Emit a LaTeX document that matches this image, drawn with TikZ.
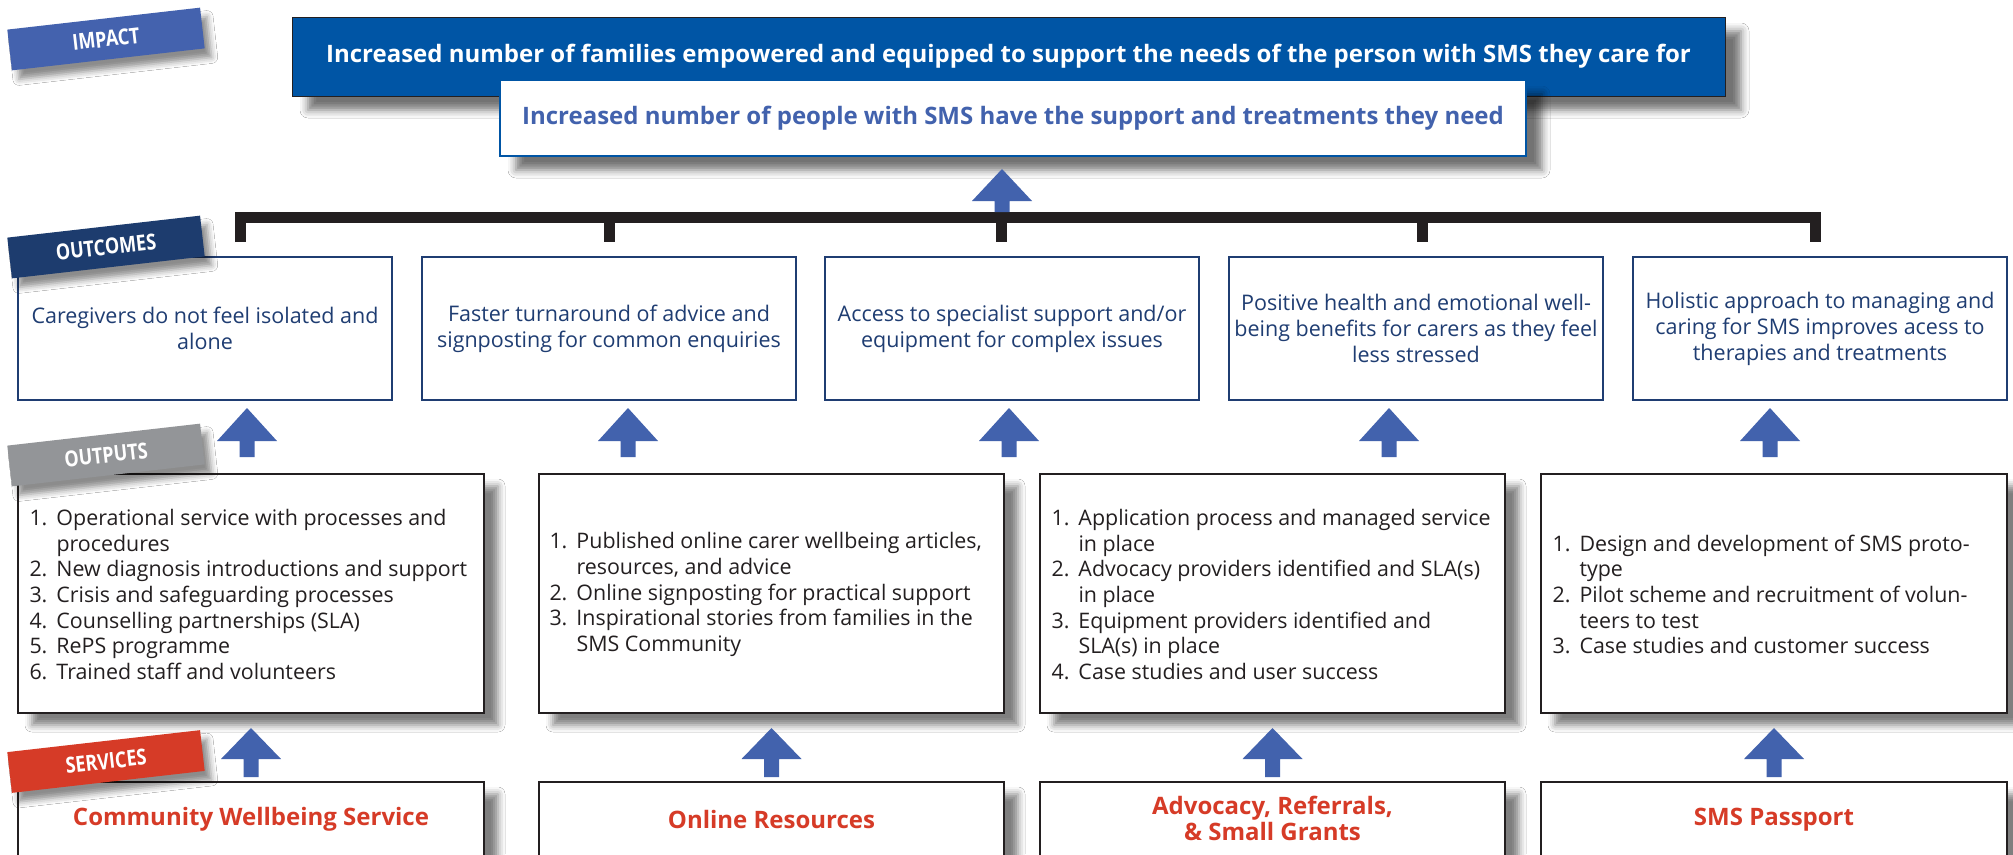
\documentclass[tikz,border=0pt]{standalone}
\usepackage{fontspec}
\setmainfont{Open Sans}
\usetikzlibrary{calc,shadows.blur}
\definecolor{topblue}{HTML}{0055A5}
\definecolor{arrblue}{HTML}{4262AD}
\definecolor{impactblue}{HTML}{4462AE}
\definecolor{navy}{HTML}{1F3D72}
\definecolor{navylab}{HTML}{1D3C6E}
\definecolor{labgrey}{HTML}{939598}
\definecolor{labred}{HTML}{D63B27}
\definecolor{ink}{HTML}{231F20}
\newcommand{\itm}[1]{\makebox[27pt][l]{#1}}
\newcommand{\ind}{\hspace*{27pt}}
\newcommand{\uparr}[4]{%
  \fill[arrblue] (#1-7.5,#4) -- (#1-7.5,#3) -- (#1-30,#3) -- (#1,#2) -- (#1+30,#3) -- (#1+7.5,#3) -- (#1+7.5,#4) -- cycle;}
\tikzset{
  lab/.style={rotate=6.5, minimum width=194pt, minimum height=41pt, inner sep=0pt,
    text=white, font=\bfseries\fontsize{22}{22}\selectfont,
    blur shadow={shadow xshift=7pt, shadow yshift=-9pt, shadow blur radius=6pt, shadow opacity=45}},
  topbox/.style={fill=topblue, draw=ink, line width=1pt, minimum width=1433pt, minimum height=79pt,
    inner sep=0pt, text=white, font=\bfseries\fontsize{24}{28}\selectfont,
    blur shadow={shadow xshift=16pt, shadow yshift=-14pt, shadow blur radius=8pt, shadow opacity=55}},
  secbox/.style={fill=white, draw=topblue, line width=2pt, minimum width=1026pt, minimum height=76pt,
    inner sep=0pt, text=arrblue, font=\bfseries\fontsize{24}{28}\selectfont,
    blur shadow={shadow xshift=16pt, shadow yshift=-14pt, shadow blur radius=8pt, shadow opacity=55}},
  ocbox/.style={draw=navy, line width=2.2pt, fill=white, minimum width=374pt, minimum height=143pt,
    inner sep=0pt, align=center, text=navy, font=\fontsize{21.5}{26}\selectfont},
  opbox/.style={draw=ink, line width=1.4pt, fill=white, minimum height=239pt, inner sep=0pt,
    blur shadow={shadow xshift=14pt, shadow yshift=-12pt, shadow blur radius=7pt, shadow opacity=50}},
  svbox/.style={draw=ink, line width=1.4pt, fill=white, minimum height=100pt, inner sep=0pt,
    blur shadow={shadow xshift=14pt, shadow yshift=-12pt, shadow blur radius=7pt, shadow opacity=50}},
  listtext/.style={anchor=west, inner sep=0pt, align=left, text=ink, font=\fontsize{21.4}{25.7}\selectfont},
  svtext/.style={inner sep=0pt, align=center, text=labred, font=\bfseries\fontsize{24}{26}\selectfont},
  bracket/.style={draw=ink, line width=11pt}
}
\begin{document}
\begin{tikzpicture}[x=1pt,y=-1pt]
\useasboundingbox (0,0) rectangle (2013,854);
\clip (0,0) rectangle (2013,854);
\fill[white] (0,0) rectangle (2013,854);

% impact
\node[topbox] (imp1) at (1008.5,56.5) {Increased number of families empowered and equipped to support the needs of the person with SMS they care for};
\node[secbox] (imp2) at (1013,118) {Increased number of people with SMS have the support and treatments they need};

% bracket and central arrow
\coordinate (bl) at (240,242);
\coordinate (br) at (1815.5,242);
\draw[bracket] (bl) -- (240,217.5) -- (1815.5,217.5) -- (br);
\foreach \x in {609,1001,1422} \draw[bracket] (\x,217.5) -- (\x,242);
\uparr{1002}{169}{201}{212}

% outcomes
\node[ocbox] (oc1) at (205,328.5) {Caregivers do not feel isolated and\\alone};
\node[ocbox] (oc2) at (609,328.5) {Faster turnaround of advice and\\signposting for common enquiries};
\node[ocbox] (oc3) at (1012,328.5) {Access to specialist support and/or\\equipment for complex issues};
\node[ocbox] (oc4) at (1416,328.5) {Positive health and emotional well-\\being benefits for carers as they feel\\less stressed};
\node[ocbox] (oc5) at (1820,328.5) {Holistic approach to managing and\\caring for SMS improves acess to\\therapies and treatments};

\foreach \x in {247,628,1009,1389,1770} {\uparr{\x}{408}{441}{457}}

% outputs
\node[opbox, minimum width=466pt] (op1) at (251,593.5) {};
\node[opbox, minimum width=465pt] (op2) at (771.5,593.5) {};
\node[opbox, minimum width=465pt] (op3) at (1272.5,593.5) {};
\node[opbox, minimum width=466pt] (op4) at (1774,593.5) {};

\node[listtext] (t1) at ($(op1.west)+(12,1)$) {\itm{1.}Operational service with processes and\\\ind procedures\\\itm{2.}New diagnosis introductions and support\\\itm{3.}Crisis and safeguarding processes\\\itm{4.}Counselling partnerships (SLA)\\\itm{5.}RePS programme\\\itm{6.}Trained staff and volunteers};
\node[listtext] (t2) at ($(op2.west)+(11,1)$) {\itm{1.}Published online carer wellbeing articles,\\\ind resources, and advice\\\itm{2.}Online signposting for practical support\\\itm{3.}Inspirational stories from families in the\\\ind SMS Community};
\node[listtext] (t3) at ($(op3.west)+(12,1)$) {\itm{1.}Application process and managed service\\\ind in place\\\itm{2.}Advocacy providers identified and SLA(s)\\\ind in place\\\itm{3.}Equipment providers identified and\\\ind SLA(s) in place\\\itm{4.}Case studies and user success};
\node[listtext] (t4) at ($(op4.west)+(12,1)$) {\itm{1.}Design and development of SMS proto-\\\ind type\\\itm{2.}Pilot scheme and recruitment of volun-\\\ind teers to test\\\itm{3.}Case studies and customer success};

\uparr{251}{728}{759}{777}
\uparr{771.5}{728}{759}{777}
\uparr{1272.5}{728}{759}{777}
\uparr{1774}{728}{759}{777}

% services
\node[svbox, minimum width=466pt] (sv1) at (251,832) {};
\node[svbox, minimum width=465pt] (sv2) at (771.5,832) {};
\node[svbox, minimum width=465pt] (sv3) at (1272.5,832) {};
\node[svbox, minimum width=466pt] (sv4) at (1774,832) {};
\node[svtext] (s1) at ($(sv1.north)+(0,38)$) {Community Wellbeing Service};
\node[svtext] (s2) at ($(sv2.north)+(0,38)$) {Online Resources};
\node[svtext] (s3) at ($(sv3.north)+(0,37)$) {Advocacy, Referrals,\\\& Small Grants};
\node[svtext] (s4) at ($(sv4.north)+(0,38)$) {SMS Passport};

% row labels
\node[lab, fill=impactblue] (limp) at (106,39) {\scalebox{0.82}[1]{IMPACT}};
\node[lab, fill=navylab] (lout) at (106,247) {\scalebox{0.82}[1]{OUTCOMES}};
\node[lab, fill=labgrey] (lput) at (106,455) {\scalebox{0.82}[1]{OUTPUTS}};
\node[lab, fill=labred] (lsvc) at (106,761.5) {\scalebox{0.82}[1]{SERVICES}};
\end{tikzpicture}
\end{document}
